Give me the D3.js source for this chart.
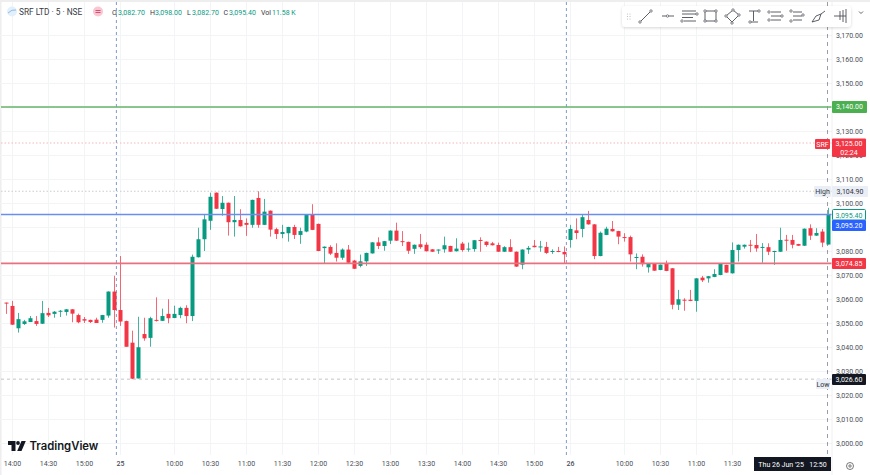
<!DOCTYPE html>
<html>
<head>
<meta charset="utf-8">
<script src="https://cdn.jsdelivr.net/npm/d3@7"></script>
<style>
  html, body { margin: 0; padding: 0; background: #fff; overflow: hidden; }
  text { font-family: Roboto, sans-serif; }
  .domain { display: none; }
</style>
</head>
<body>
<svg id="chart" width="870" height="475"></svg>
<script>
// 5 minute candles, first one is 13:55, last one is 12:50 on the 26th
const opens = [
  3058.5,3057.1,3047.8,3049.6,3050.4,3050.8,3049.7,3054.2,3053.8,3055.0,3054.6,3055.7,3053.3,3051.6,3051.3,3051.4,3051.3,3053.1,3063.1,3055.4,
  3050.8,3041.8,3026.9,3045.4,3043.8,3051.3,3050.9,3053.8,3052.1,3053.3,3056.3,3052.9,3077.4,3084.9,3092.6,3104.3,3097.5,3100.1,3092.0,3092.9,
  3091.7,3090.9,3102.1,3090.9,3096.8,3089.1,3087.1,3087.4,3090.0,3086.7,3088.1,3095.0,3091.3,3081.2,3081.7,3079.2,3077.2,3080.6,3076.0,3073.8,
  3075.7,3079.0,3083.6,3082.1,3084.3,3088.5,3084.1,3083.8,3080.9,3082.8,3082.6,3080.7,3080.2,3080.7,3082.1,3079.9,3083.1,3080.6,3080.8,3084.6,
  3083.9,3083.2,3082.5,3079.7,3081.6,3079.7,3074.3,3080.6,3082.2,3081.5,3081.7,3079.6,3080.0,3079.6,3084.6,3088.6,3089.2,3092.9,3091.1,3077.9,
  3086.7,3089.2,3088.3,3085.8,3085.8,3077.2,3077.6,3073.2,3074.6,3072.1,3074.9,3072.8,3057.6,3059.7,3059.7,3059.2,3068.9,3068.6,3069.2,3070.0,
  3074.2,3070.7,3080.4,3081.8,3082.6,3082.5,3081.3,3081.6,3079.7,3079.7,3084.7,3084.6,3082.9,3082.2,3089.5,3086.4,3088.1,3082.7
];
const highs = [
  3058.5,3059.2,3054.2,3051.3,3052.9,3052.9,3059.2,3056.3,3055.0,3055.4,3055.8,3055.8,3053.9,3052.5,3051.4,3052.2,3053.4,3063.2,3069.7,3077.9,
  3051.0,3046.8,3052.6,3052.2,3052.6,3060.7,3056.0,3059.9,3057.2,3056.8,3057.4,3078.5,3089.7,3095.3,3104.3,3104.4,3102.9,3100.2,3102.9,3097.4,
  3093.6,3101.4,3104.9,3101.7,3096.9,3089.7,3090.9,3090.1,3090.9,3089.7,3095.1,3099.5,3091.4,3081.9,3082.4,3083.2,3081.1,3082.5,3076.3,3078.5,
  3079.3,3083.7,3085.7,3084.2,3088.6,3091.8,3088.3,3083.9,3082.7,3087.1,3083.6,3080.8,3080.7,3086.0,3082.2,3085.3,3083.8,3083.5,3084.6,3085.7,
  3084.0,3083.8,3083.5,3082.0,3084.9,3079.8,3080.7,3082.1,3084.6,3084.2,3083.8,3080.7,3081.7,3081.9,3090.9,3093.6,3095.0,3096.7,3091.2,3088.1,
  3090.1,3092.5,3088.4,3087.4,3086.4,3079.0,3078.6,3074.7,3074.7,3074.4,3076.0,3072.9,3063.8,3060.3,3063.8,3068.7,3069.6,3069.6,3072.4,3074.7,
  3074.3,3083.6,3082.7,3082.7,3084.6,3087.1,3083.3,3083.2,3080.1,3089.7,3086.7,3086.7,3083.0,3089.4,3091.1,3089.5,3089.2,3098.0
];
const lows = [
  3053.8,3049.2,3046.0,3049.2,3050.4,3048.8,3049.6,3052.5,3052.2,3052.5,3053.1,3050.3,3049.9,3050.0,3050.0,3050.0,3050.1,3052.2,3048.1,3048.8,
  3040.1,3026.6,3026.9,3042.6,3040.1,3050.6,3050.8,3049.9,3052.0,3052.0,3049.9,3050.8,3077.3,3080.0,3088.8,3097.5,3094.7,3086.4,3086.0,3090.2,
  3086.3,3089.7,3089.7,3090.8,3086.0,3085.0,3085.3,3083.9,3085.0,3083.0,3087.8,3088.7,3079.9,3074.9,3078.3,3075.6,3076.3,3074.9,3072.5,3073.2,
  3073.8,3078.9,3080.8,3080.1,3082.9,3084.2,3082.1,3078.8,3078.8,3080.9,3079.8,3079.6,3078.8,3079.3,3079.6,3079.8,3079.7,3079.7,3079.7,3079.7,
  3081.8,3082.3,3079.6,3079.6,3079.6,3073.4,3072.4,3078.8,3081.5,3079.7,3078.8,3078.8,3079.5,3074.9,3081.4,3084.9,3085.7,3091.0,3076.6,3077.8,
  3086.6,3088.1,3082.8,3083.9,3075.6,3072.4,3073.5,3071.0,3071.7,3072.0,3071.6,3055.7,3055.4,3055.1,3059.1,3054.7,3067.1,3066.8,3069.1,3069.9,
  3070.9,3070.6,3075.6,3081.0,3079.5,3079.7,3075.1,3078.3,3074.2,3079.6,3080.1,3081.1,3082.1,3082.1,3084.6,3086.3,3081.6,3082.7
];
const closes = [
  3058.1,3049.3,3051.6,3050.7,3052.0,3049.6,3054.1,3053.2,3054.7,3055.1,3055.7,3053.9,3050.3,3051.0,3050.4,3050.0,3053.3,3063.1,3055.4,3050.6,
  3040.1,3026.8,3039.9,3043.6,3052.0,3051.0,3052.9,3052.0,3053.8,3056.3,3052.9,3077.6,3084.9,3093.2,3102.6,3097.6,3100.1,3092.0,3092.9,3090.3,
  3090.9,3101.3,3090.9,3096.4,3088.9,3087.1,3087.9,3090.0,3086.7,3088.3,3095.0,3088.8,3080.0,3081.8,3078.9,3077.2,3080.6,3075.1,3072.6,3075.7,
  3079.2,3083.6,3082.1,3084.1,3088.5,3084.3,3083.8,3080.1,3082.6,3081.6,3079.9,3079.7,3080.6,3082.4,3079.7,3081.0,3080.4,3081.0,3084.5,3084.3,
  3082.5,3082.4,3079.7,3081.6,3079.7,3073.5,3080.6,3081.3,3081.6,3081.9,3079.2,3080.0,3079.6,3078.6,3089.2,3087.5,3094.1,3091.1,3077.9,3087.6,
  3089.3,3088.2,3086.0,3085.6,3078.6,3077.5,3074.5,3074.6,3071.8,3074.3,3071.7,3057.6,3059.9,3059.3,3059.2,3068.6,3067.8,3069.5,3070.4,3074.6,
  3071.0,3080.4,3082.6,3082.6,3082.4,3081.1,3081.7,3079.7,3080.0,3084.6,3084.3,3082.6,3082.2,3089.3,3086.4,3087.5,3083.5,3095.4
];

const priceTicks = d3.range(3000, 3171, 10);
const timeTickIndex = [1,7,13,19,28,34,40,46,52,58,64,70,76,82,88,94,103,109,115,121];
const timeTickLabels = ["14:00","14:30","15:00","25","10:00","10:30","11:00","11:30","12:00","12:30","13:00","13:30","14:00","14:30","15:00","26","10:00","10:30","11:00","11:30"];
const dayBreaks = [18.4, 93.4];

const upColor = '#089981', downColor = '#f23645';

const svg = d3.select('#chart');
const x = d3.scaleLinear().domain([0, opens.length - 1]).range([6, 828]);
const y = d3.scaleLinear().domain([3000, 3170]).range([443, 35]);

// page edge
svg.append('rect').attr('width', 870).attr('height', 2).attr('fill', '#eeeeee');
svg.append('rect').attr('width', 1.5).attr('height', 475).attr('fill', '#eeeeee');

// grid
const grid = svg.append('g').attr('stroke', '#f3f4f6').attr('stroke-width', 1);
grid.selectAll('line.h').data(priceTicks).join('line')
  .attr('x1', 0).attr('x2', 832)
  .attr('y1', d => Math.round(y(d)) + .5).attr('y2', d => Math.round(y(d)) + .5);
grid.selectAll('line.v').data(timeTickIndex).join('line')
  .attr('y1', 2).attr('y2', 455)
  .attr('x1', d => x(d) + .5).attr('x2', d => x(d) + .5);

// session breaks and crosshair
svg.selectAll('line.day').data(dayBreaks).join('line')
  .attr('x1', d => x(d)).attr('x2', d => x(d))
  .attr('y1', 2).attr('y2', 455)
  .attr('stroke', '#7f9cc8').attr('stroke-width', 1).attr('stroke-dasharray', '3 3');
svg.append('line').attr('x1', 827.5).attr('x2', 827.5).attr('y1', 2).attr('y2', 455)
  .attr('stroke', '#9a9da5').attr('stroke-dasharray', '4 4');

// level lines
function level(v, color, width, dash) {
  svg.append('line').attr('x1', 1).attr('x2', 832)
    .attr('y1', y(v)).attr('y2', y(v))
    .attr('stroke', color).attr('stroke-width', width)
    .attr('stroke-dasharray', dash);
}
level(3140, '#66b46a', 1.4, null);
level(3125, '#f4b6bc', 1, '1.5 2');
level(3104.9, '#c9ccd2', 1, '1.5 2');
level(3026.6, '#c2c5cb', 1, '3 3');

// candles
const candles = svg.append('g');
const colorOf = i => closes[i] >= opens[i] ? upColor : downColor;
candles.selectAll('line').data(opens).join('line')
  .attr('x1', (d, i) => x(i) + .5).attr('x2', (d, i) => x(i) + .5)
  .attr('y1', (d, i) => y(highs[i])).attr('y2', (d, i) => y(lows[i]))
  .attr('stroke', (d, i) => colorOf(i)).attr('stroke-opacity', .75).attr('stroke-width', 1);
candles.selectAll('rect').data(opens).join('rect')
  .attr('x', (d, i) => x(i) - 1.5).attr('width', 4)
  .attr('y', (d, i) => y(Math.max(opens[i], closes[i])))
  .attr('height', (d, i) => Math.max(1, Math.abs(y(opens[i]) - y(closes[i]))))
  .attr('fill', (d, i) => colorOf(i));

level(3095.2, '#6a8ef0', 1.6, null);
level(3074.85, '#e8717f', 1.6, null);

// price axis
svg.append('rect').attr('x', 832).attr('y', 2).attr('width', 38).attr('height', 473).attr('fill', '#fff');
svg.append('line').attr('x1', 832).attr('x2', 832).attr('y1', 2).attr('y2', 475).attr('stroke', '#f0f0f0');
const yAxis = svg.append('g').attr('transform', 'translate(836,0)')
  .call(d3.axisRight(y).tickValues(priceTicks).tickSize(0).tickPadding(0).tickFormat(d3.format(',.2f')));
yAxis.selectAll('text').attr('font-size', 7).attr('fill', '#4a4e57');

// time axis
const xAxis = svg.append('g').attr('transform', 'translate(0,461)')
  .call(d3.axisBottom(x).tickValues(timeTickIndex).tickSize(0).tickPadding(0)
    .tickFormat((d, i) => timeTickLabels[i]));
xAxis.selectAll('text').attr('font-size', 7).attr('fill', '#4a4e57')
  .attr('font-weight', (d, i) => timeTickLabels[i].length == 2 ? 500 : 400);

// price tags
function tag(x0, y0, w, h, bg, fg, label, border, base) {
  svg.append('rect').attr('x', x0).attr('y', y0).attr('width', w).attr('height', h).attr('rx', 1)
    .attr('fill', bg).attr('stroke', border || 'none');
  svg.append('text').attr('x', x0 + w / 2).attr('y', y0 + (base || 8)).attr('text-anchor', 'middle')
    .attr('font-size', 7).attr('fill', fg).text(label);
}
tag(832, 101, 35, 12, '#4caf50', '#fff', '3,140.00');
tag(815, 139, 15, 10, '#f23645', '#fff', 'SRF');
tag(832, 138.5, 34, 18.5, '#f23645', '#fff', '3,125.00', null, 7);
svg.append('text').attr('x', 849).attr('y', 155).attr('text-anchor', 'middle')
  .attr('font-size', 7).attr('fill', '#fff').text('02:24');
tag(814, 186, 17, 11, '#e9eef7', '#333', 'High');
tag(832, 186, 36, 11, '#e9eef7', '#333', '3,104.90');
tag(832.5, 209.5, 33, 10.5, '#fff', '#089981', '3,095.40', '#089981');
tag(832, 220, 34, 11, '#2962ff', '#fff', '3,095.20');
tag(832, 258, 34, 11, '#f23645', '#fff', '3,074.85');
tag(816, 379, 14, 10, '#e9eef7', '#333', 'Low');
tag(832, 374, 34, 11, '#131722', '#fff', '3,026.60');

// crosshair date
svg.append('rect').attr('x', 754).attr('y', 457).attr('width', 77).attr('height', 14).attr('fill', '#131722');
svg.append('text').attr('x', 792.5).attr('y', 467).attr('text-anchor', 'middle')
  .attr('font-size', 7).attr('fill', '#fff').attr('xml:space', 'preserve').text("Thu 26 Jun '25   12:50");

// settings icon
svg.append('circle').attr('cx', 850).attr('cy', 466).attr('r', 3.5).attr('fill', 'none').attr('stroke', '#555').attr('stroke-width', .8);
svg.append('circle').attr('cx', 850).attr('cy', 466).attr('r', 1.2).attr('fill', 'none').attr('stroke', '#555').attr('stroke-width', .8);

// legend
svg.append('circle').attr('cx', 12).attr('cy', 11.5).attr('r', 5).attr('fill', '#e3f0fb');
svg.append('path').attr('d', 'M8 13 q4 -4 8 -3').attr('fill', 'none').attr('stroke', '#8fbce6').attr('stroke-width', 1);
svg.append('text').attr('x', 19).attr('y', 15).attr('font-size', 8.3).attr('fill', '#363a45').text('SRF LTD · 5 · NSE');
svg.append('circle').attr('cx', 98).attr('cy', 11.5).attr('r', 5).attr('fill', '#f9c6d2');
svg.append('path').attr('d', 'M95.5 10.5h5M95.5 12.5h5').attr('stroke', '#d0436a').attr('stroke-width', .9);

const legendParts = [
  ['O', 112, '#363a45'], ['3,082.70', 118, upColor],
  ['H', 150, '#363a45'], ['3,098.00', 155, upColor],
  ['L', 187, '#363a45'], ['3,082.70', 192, upColor],
  ['C', 223.5, '#363a45'], ['3,095.40', 229, upColor],
  ['Vol', 261, '#363a45'], ['11.58 K', 272, upColor]
];
svg.append('g').selectAll('text').data(legendParts).join('text')
  .attr('x', d => d[1]).attr('y', 14.5).attr('font-size', 7).attr('fill', d => d[2]).text(d => d[0]);

// drawing toolbar
svg.append('defs').append('filter').attr('id', 'sh')
  .attr('x', '-5%').attr('y', '-30%').attr('width', '110%').attr('height', '170%')
  .append('feDropShadow').attr('dx', 0).attr('dy', 1).attr('stdDeviation', 1.5).attr('flood-opacity', .16);
svg.append('rect').attr('x', 622).attr('y', 6).attr('width', 229).attr('height', 21).attr('rx', 4)
  .attr('fill', '#fff').attr('filter', 'url(#sh)');
const icons = [
  'M641 21 L650 12',
  'M662 16 H666 M669 16 H674',
  'M682 11 H696 M682 14 H696 M682 17.5 H693 M684 21 H696',
  'M705 11 H716 V21 H705 Z',
  'M726 16 L733 10 L739 15 L732 22 Z',
  'M749 11 H758 M753.5 11 V21 M751 22 H758',
  'M771 12 H781 M771 16 H781 M771 20 H781',
  'M793 12 H802 M793 16 H802 M793 20 H802',
  'M812 22 L816 16 L821 14 L819 20 Z M821 14 L825 11',
  'M834 16 H846 M840 11 V20 M843 10 V22 M846 9 V23'
];
svg.append('g').selectAll('path').data(icons).join('path')
  .attr('d', d => d).attr('fill', 'none').attr('stroke', '#4a4e57').attr('stroke-width', .9);
const iconHandles = [
  [640,22],[651,11],[667.5,16],[697,14],[682,21],
  [705,11],[716,11],[705,21],[716,21],
  [733,10],[739,15],[732,23],[726,16],
  [759,11],[750,22],[769,12],[769,20],[782,16],[791,11],[791,21],[803,15]
];
svg.append('g').selectAll('circle').data(iconHandles).join('circle')
  .attr('cx', d => d[0]).attr('cy', d => d[1]).attr('r', 1.2)
  .attr('fill', '#fff').attr('stroke', '#4a4e57').attr('stroke-width', .7);
svg.append('g').attr('fill', '#bbb').selectAll('circle')
  .data([[627.5, 14], [630, 14], [627.5, 16.5], [630, 16.5], [627.5, 19], [630, 19]]).join('circle')
  .attr('cx', d => d[0]).attr('cy', d => d[1]).attr('r', .6);
svg.append('path').attr('d', 'M859 11.5 l2 2 l2 -2').attr('fill', 'none').attr('stroke', '#555').attr('stroke-width', .9);

// TradingView logo
svg.append('path').attr('fill', '#131722')
  .attr('d', 'M8 441 H15.5 V451 H11.5 V445 H8 Z M21.5 441 H25.8 L21.5 451 H17.2 Z');
svg.append('circle').attr('cx', 18).attr('cy', 443).attr('r', 1.9).attr('fill', '#131722');
svg.append('text').attr('x', 29.5).attr('y', 450).style('font-family', 'Inter, sans-serif')
  .attr('font-size', 11.3).attr('font-weight', 600).attr('fill', '#131722').text('TradingView');
</script>
</body>
</html>
